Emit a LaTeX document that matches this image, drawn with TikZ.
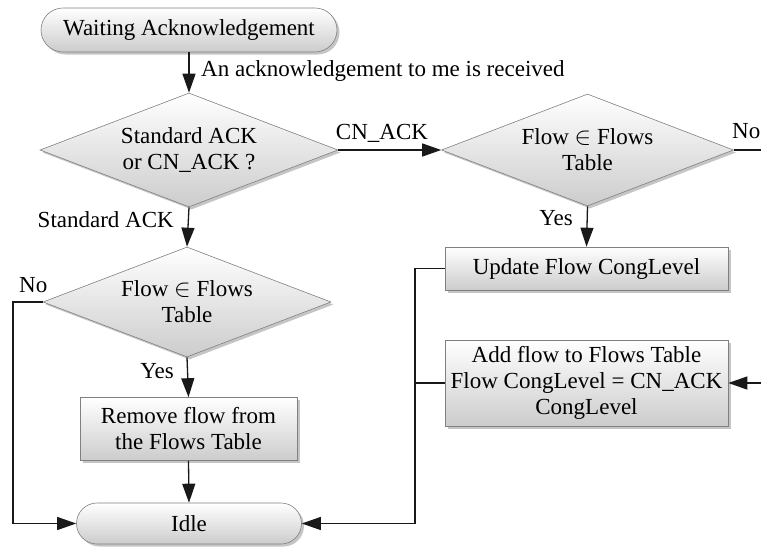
\documentclass[tikz,border=0pt]{standalone}
\usepackage{fontspec}
\setmainfont{Liberation Serif}
\newfontfamily\tnr{Liberation Serif}
\usetikzlibrary{shapes.geometric,shapes.misc,shadows,arrows.meta,calc}
\begin{document}
\begin{tikzpicture}[x=1pt,y=-1pt,
  every node/.style={font=\tnr\fontsize{23}{26}\selectfont},
  shade/.style={top color=white,bottom color=black!20,draw=black!50,line width=0.6pt,
    drop shadow={shadow xshift=2.5pt,shadow yshift=-2.5pt,fill=black!45}},
  decision/.style={shade,diamond,inner sep=0pt,aspect=2.6,align=center},
  process/.style={shade,rectangle,inner sep=0pt,align=center},
  terminal/.style={shade,rounded rectangle,inner sep=0pt,align=center},
  lbl/.style={inner sep=0pt},
  conn/.style={draw=black!90,line width=1.3pt},
  arr/.style={conn,-{Triangle[length=19pt,width=13pt]}}
]
\useasboundingbox (0,0) rectangle (761,549);
\node[terminal,minimum width=296,minimum height=44] (wait) at (189,30) {Waiting Acknowledgement};
\node[decision,minimum width=298,minimum height=114] (d1) at (189,150) {Standard ACK\\or CN\_ACK ?};
\node[decision,minimum width=288,minimum height=110] (d2) at (187,302) {Flow $\in$ Flows\\Table};
\node[process,minimum width=217,minimum height=63] (rem) at (188.5,429) {Remove flow from\\the Flows Table};
\node[terminal,minimum width=225,minimum height=41] (idle) at (189,523.5) {Idle};
\node[decision,minimum width=292,minimum height=112] (d3) at (587.5,150) {Flow $\in$ Flows\\Table};
\node[process,minimum width=283,minimum height=43] (upd) at (586.5,268.5) {Update Flow CongLevel};
\node[process,minimum width=283,minimum height=86] (add) at (586.5,383) {Add flow to Flows Table\\Flow CongLevel = CN\_ACK\\CongLevel};

\coordinate (noR) at (761,150);
\coordinate (inR) at (761,383);
\coordinate (lft) at (13,302);
\coordinate (mid) at (415,268.5);
\coordinate (midadd) at (415,383);

\draw[arr] (wait.south) -- (d1.north);
\node[lbl,anchor=base west] (l1) at (201,76) {An acknowledgement to me is received};
\draw[arr] (d1.south) -- (d2.north);
\node[lbl,anchor=base east] (l2) at (174,227) {Standard ACK};
\draw[arr] (d2.west) -- (lft) |- (idle.west);
\node[lbl,anchor=base west] (l3) at (19,292) {No};
\draw[arr] (d2.south) -- (rem.north);
\node[lbl,anchor=base east] (l4) at (174,378) {Yes};
\draw[arr] (rem.south) -- (idle.north);
\draw[arr] (d1.east) -- (d3.west);
\node[lbl,anchor=base] (l5) at (382,139) {CN\_ACK};
\draw[conn] (d3.east) -- (noR);
\node[lbl,anchor=base west] (l6) at (732,138) {No};
\draw[arr] (d3.south) -- (upd.north);
\node[lbl,anchor=base east] (l7) at (573,225) {Yes};
\draw[arr] (upd.west) -- (mid) |- (idle.east);
\draw[conn] (add.west) -- (midadd);
\draw[arr] (inR) -- (add.east);
\end{tikzpicture}
\end{document}
